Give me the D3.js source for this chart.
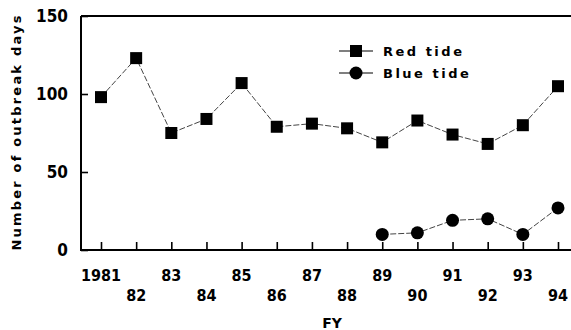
<!DOCTYPE html>
<html>
<head>
<meta charset="utf-8">
<script src="https://cdn.jsdelivr.net/npm/d3@7"></script>
<style>
  body { margin: 0; background: #fff; }
  svg { display: block; font-family: "DejaVu Sans", sans-serif; font-weight: bold; }
  .num { font-family: "DejaVu Sans Condensed", "DejaVu Sans", sans-serif; }
</style>
</head>
<body>
<svg id="chart" width="571" height="330"></svg>
<script>
// data
const years = [1981, 1982, 1983, 1984, 1985, 1986, 1987, 1988, 1989, 1990, 1991, 1992, 1993, 1994]
const yearLabels = ['1981', '82', '83', '84', '85', '86', '87', '88', '89', '90', '91', '92', '93', '94']
const redTide = [98, 123, 75, 84, 107, 79, 81, 78, 69, 83, 74, 68, 80, 105]
const blueYears = [1989, 1990, 1991, 1992, 1993, 1994]
const blueTide = [10, 11, 19, 20, 10, 27]
const yTicks = [0, 50, 100, 150]

const svg = d3.select('#chart')
const plotL = 81, plotR = 571, plotT = 16, plotB = 250

const x = d3.scaleLinear().domain([1981, 1994]).range([101, 558])
const y = d3.scaleLinear().domain([0, 150]).range([plotB, plotT])

// frame: left axis, bottom axis, top border
const frame = svg.append('g').attr('stroke', '#000').attr('stroke-width', 2).attr('fill', 'none')
frame.append('path').attr('d', `M${plotL},${plotT}H${plotR}M${plotL},${plotT}V${plotB}H${plotR}`)

// y axis (ticks inward)
const yAxis = svg.append('g')
  .attr('transform', `translate(${plotL},0)`)
  .call(d3.axisRight(y).tickValues(yTicks).tickSize(7).tickFormat(''))
yAxis.select('.domain').remove()
yAxis.selectAll('line').attr('stroke-width', 1.6)

svg.append('g').attr('class', 'num').selectAll('text')
  .data(yTicks)
  .join('text')
  .attr('x', 68)
  .attr('y', d => y(d) + 6)
  .attr('text-anchor', 'end')
  .attr('font-size', 17)
  .text(d => d)

// x axis (ticks pointing up)
const xAxis = svg.append('g')
  .attr('transform', `translate(0,${plotB})`)
  .call(d3.axisTop(x).tickValues(years).tickSize(8).tickFormat(''))
xAxis.select('.domain').remove()
xAxis.selectAll('line').attr('stroke-width', 1.6)

svg.append('g').attr('class', 'num').selectAll('text')
  .data(years)
  .join('text')
  .attr('x', d => x(d))
  .attr('y', (d, i) => i % 2 === 0 ? 281 : 301)
  .attr('text-anchor', 'middle')
  .attr('font-size', 16)
  .text((d, i) => yearLabels[i])

svg.append('text')
  .attr('x', 332).attr('y', 328)
  .attr('text-anchor', 'middle')
  .attr('font-size', 14)
  .text('FY')

svg.append('text')
  .attr('transform', 'translate(21,132) rotate(-90)')
  .attr('text-anchor', 'middle')
  .attr('font-size', 13)
  .attr('letter-spacing', 2.2)
  .text('Number of outbreak days')

// lines
const redPts = years.map((yr, i) => [yr, redTide[i]])
const bluePts = blueYears.map((yr, i) => [yr, blueTide[i]])
const line = d3.line().x(d => x(d[0])).y(d => y(d[1]))

svg.append('path').datum(redPts)
  .attr('d', line).attr('fill', 'none')
  .attr('stroke', '#444').attr('stroke-width', 1)
  .attr('stroke-dasharray', '6,2')
svg.append('path').datum(bluePts)
  .attr('d', line).attr('fill', 'none')
  .attr('stroke', '#444').attr('stroke-width', 1)
  .attr('stroke-dasharray', '6,2')

// markers
const sq = 12
svg.append('g').selectAll('rect')
  .data(redPts)
  .join('rect')
  .attr('x', d => x(d[0]) - sq / 2)
  .attr('y', d => y(d[1]) - sq / 2)
  .attr('width', sq).attr('height', sq)
  .attr('fill', '#000')

svg.append('g').selectAll('circle')
  .data(bluePts)
  .join('circle')
  .attr('cx', d => x(d[0]))
  .attr('cy', d => y(d[1]))
  .attr('r', 6.5)
  .attr('fill', '#000')

// legend
const legend = svg.append('g').attr('transform', 'translate(339,51)')
const items = [{ label: 'Red tide', shape: 'square' }, { label: 'Blue tide', shape: 'circle' }]
items.forEach((it, i) => {
  const g = legend.append('g').attr('transform', `translate(0,${i * 22})`)
  g.append('line').attr('x1', 0).attr('x2', 34).attr('stroke', '#000').attr('stroke-width', 1.2)
  if (it.shape === 'square') {
    g.append('rect').attr('x', 11).attr('y', -6).attr('width', 12).attr('height', 12).attr('fill', '#000')
  } else {
    g.append('circle').attr('cx', 17).attr('r', 6.5).attr('fill', '#000')
  }
  g.append('text').attr('x', 44).attr('y', 5)
    .attr('font-size', 13).attr('letter-spacing', 2.5)
    .text(it.label)
})
</script>
</body>
</html>
